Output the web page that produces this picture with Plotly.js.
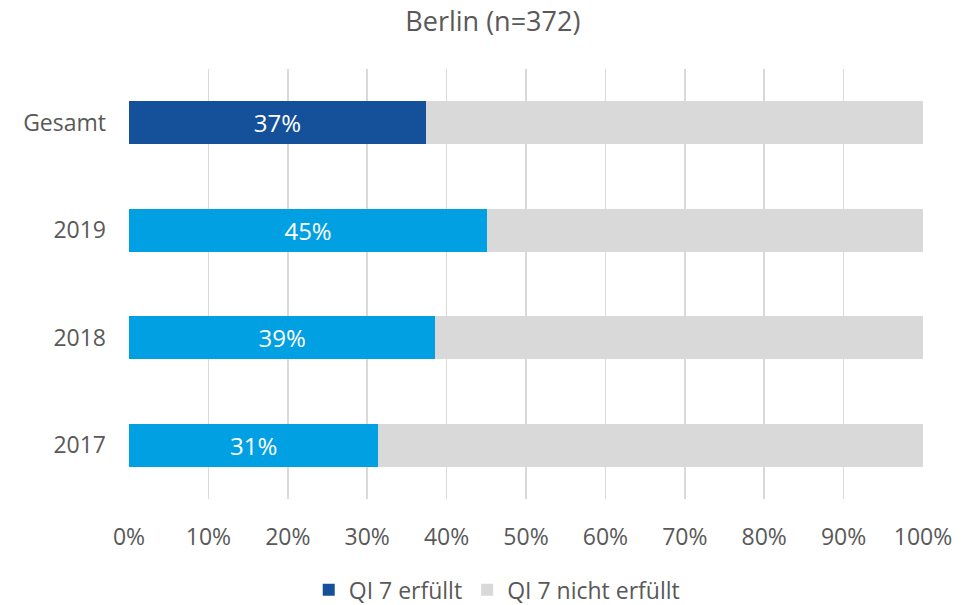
<!DOCTYPE html>
<html>
<head>
<meta charset="utf-8">
<script src="https://cdn.plot.ly/plotly-3.0.1.min.js"></script>
<style>html,body{margin:0;padding:0;background:#fff;}#chart{width:974px;height:605px;}</style>
</head>
<body>
<div id="chart"></div>
<script>
const categories = ['Gesamt', '2019', '2018', '2017'];
const erfuellt = [37.4, 45.1, 38.6, 31.4];
const nichtErfuellt = [62.6, 54.9, 61.4, 68.6];
const erfuelltLabels = ['37%', '45%', '39%', '31%'];
const xTickVals = [0, 10, 20, 30, 40, 50, 60, 70, 80, 90, 100];
const xTickText = ['0%', '10%', '20%', '30%', '40%', '50%', '60%', '70%', '80%', '90%', '100%'];

const darkBlue = '#15519A';
const lightBlue = '#00A0E3';
const grey = '#D9D9D9';
const textColor = '#595959';
const fontFam = '"Open Sans", "Noto Sans", sans-serif';

const traces = [
  {
    type: 'bar', orientation: 'h', name: 'QI 7 erfüllt',
    y: categories, x: erfuellt,
    text: erfuelltLabels, textposition: 'inside', insidetextanchor: 'middle',
    textfont: {color: '#ffffff', size: 24, family: fontFam},
    marker: {color: categories.map((c, i) => i === 0 ? darkBlue : lightBlue)},
    hoverinfo: 'none'
  },
  {
    type: 'bar', orientation: 'h', name: 'QI 7 nicht erfüllt',
    y: categories, x: nichtErfuellt,
    textposition: 'none',
    marker: {color: grey},
    hoverinfo: 'none'
  }
];

const layout = {
  width: 974, height: 605,
  barmode: 'stack', bargap: 0.6,
  paper_bgcolor: '#ffffff', plot_bgcolor: '#ffffff',
  margin: {l: 129, r: 51, t: 69, b: 106},
  font: {family: fontFam, color: textColor, size: 23},
  title: {text: 'Berlin (n=372)', x: 0.506, xref: 'container', xanchor: 'center', y: 0.965, yref: 'container', yanchor: 'middle', font: {size: 27, color: textColor, family: fontFam}},
  xaxis: {
    range: [0, 100], tickvals: xTickVals, ticktext: xTickText,
    showgrid: true, gridcolor: grey, gridwidth: 1.5, zeroline: false,
    showline: false, ticks: '', ticklabelstandoff: 22,
    tickfont: {size: 23, color: textColor}, fixedrange: true
  },
  yaxis: {
    type: 'category', categoryorder: 'array', categoryarray: categories,
    autorange: 'reversed', showgrid: false, zeroline: false, showline: false,
    ticks: '', ticklabelstandoff: 22, tickfont: {size: 23, color: textColor}, fixedrange: true
  },
  showlegend: true,
  legend: {
    orientation: 'h', xref: 'container', x: 0.51, xanchor: 'center',
    yref: 'container', y: 0.025, yanchor: 'middle',
    font: {size: 23, color: textColor}, traceorder: 'normal', itemwidth: 30
  }
};

Plotly.newPlot('chart', traces, layout, {displayModeBar: false, staticPlot: true});
</script>
</body>
</html>
